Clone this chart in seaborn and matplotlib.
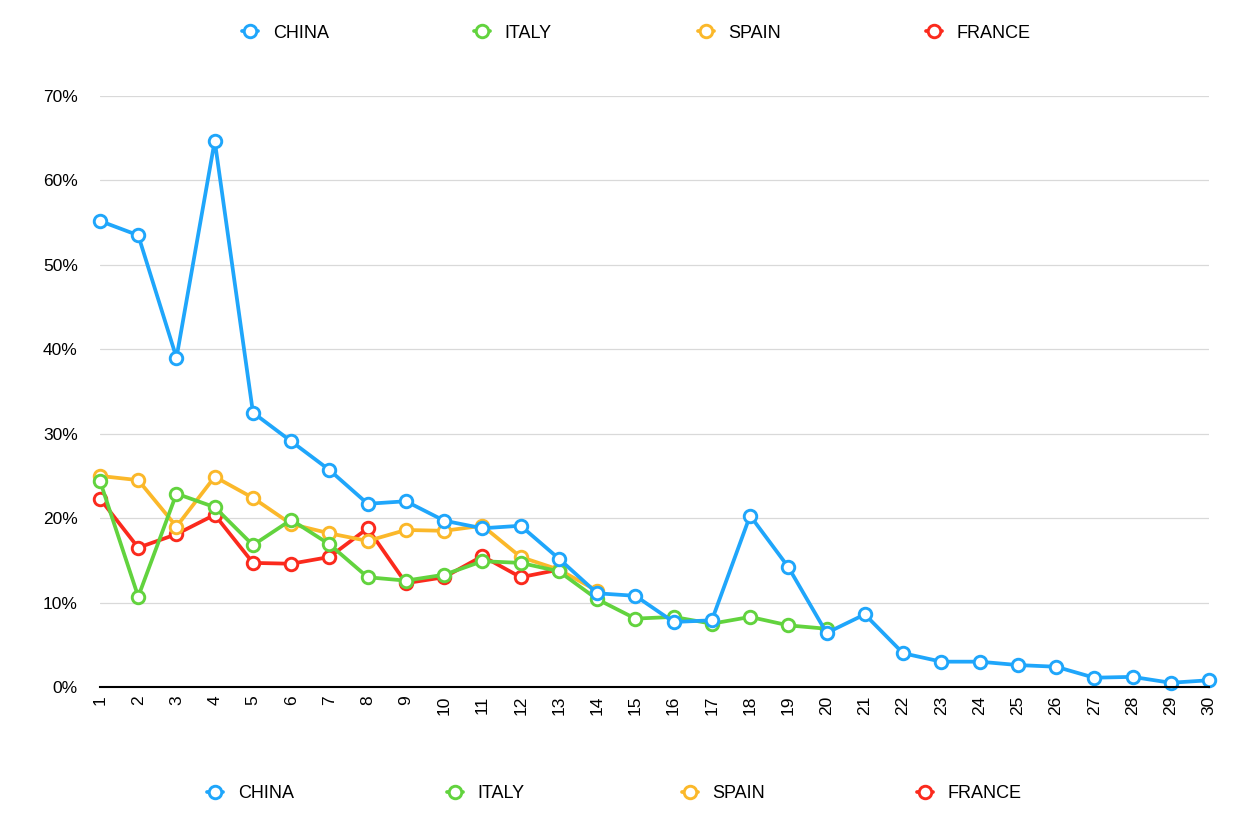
import matplotlib
matplotlib.use("Agg")
import matplotlib.pyplot as plt
import seaborn as sns
import pandas as pd
from matplotlib.lines import Line2D
from matplotlib.ticker import FuncFormatter, MultipleLocator

days = list(range(1, 31))
china = [55.2, 53.5, 39.0, 64.7, 32.5, 29.1, 25.7, 21.7, 22.0, 19.7,
         18.8, 19.1, 15.2, 11.1, 10.8, 7.7, 7.9, 20.3, 14.2, 6.4,
         8.6, 4.0, 3.0, 3.0, 2.6, 2.4, 1.1, 1.2, 0.5, 0.8]
italy = [24.4, 10.7, 22.9, 21.3, 16.8, 19.8, 16.9, 13.0, 12.6, 13.3,
         14.9, 14.7, 13.7, 10.4, 8.1, 8.3, 7.5, 8.3, 7.3, 6.9]
spain = [25.0, 24.5, 19.0, 24.9, 22.4, 19.3, 18.2, 17.3, 18.6, 18.5,
         19.1, 15.4, 13.9, 11.4]
france = [22.3, 16.5, 18.1, 20.4, 14.7, 14.6, 15.4, 18.8, 12.3, 13.0,
          15.5, 13.0, 13.9]

countries = ["CHINA", "ITALY", "SPAIN", "FRANCE"]
series = {"CHINA": china, "ITALY": italy, "SPAIN": spain, "FRANCE": france}
colors = {"CHINA": "#1FA6FB", "ITALY": "#62D33E", "SPAIN": "#FBB82A", "FRANCE": "#FB2A1D"}

rows = []
for c in countries:
    for d, v in zip(days, series[c]):
        rows.append({"day": d, "value": v, "country": c})
df = pd.DataFrame(rows)

sns.set_theme(style="white")
plt.rcParams["font.family"] = ["Liberation Sans", "DejaVu Sans"]
plt.rcParams["text.color"] = "black"
plt.rcParams["xtick.color"] = "black"
plt.rcParams["ytick.color"] = "black"

fig = plt.figure(figsize=(12.48, 8.26), dpi=100)
ax = fig.add_axes([100/1248, 1-687/826, (1209-100)/1248, (687-96)/826])

for c in reversed(countries):
    sub = df[df["country"] == c]
    sns.lineplot(data=sub, x="day", y="value", ax=ax, color=colors[c],
                 linewidth=2.7, marker="o", markersize=9,
                 markerfacecolor="white", markeredgecolor=colors[c],
                 markeredgewidth=2.1, legend=False, clip_on=False)

ax.set_xlim(1, 30)
ax.set_ylim(0, 70)
ax.yaxis.set_major_locator(MultipleLocator(10))
ax.yaxis.set_major_formatter(FuncFormatter(lambda v, p: f"{int(v)}%"))
ax.set_xticks(days)
ax.set_xticklabels([str(d) for d in days], rotation=90)
ax.grid(axis="y", color="#d9d9d9", linewidth=0.9)
ax.set_axisbelow(True)
for s in ["top", "right", "left"]:
    ax.spines[s].set_visible(False)
ax.spines["bottom"].set_color("black")
ax.spines["bottom"].set_linewidth(1.5)
ax.tick_params(axis="y", length=0, pad=16, labelsize=12.5, labelcolor="black")
ax.tick_params(axis="x", length=0, pad=6, labelsize=12.5, labelcolor="black")
ax.set_xlabel("")
ax.set_ylabel("")

def add_legend_entry(c, xpix, ypix):
    h = Line2D([], [], color=colors[c], linewidth=2.7, marker="o", markersize=9,
               markerfacecolor="white", markeredgecolor=colors[c], markeredgewidth=2.1)
    leg = fig.legend(handles=[h], labels=[c], loc="center left",
                     bbox_to_anchor=(xpix/1248, 1-ypix/826), frameon=False,
                     handlelength=0.9, handletextpad=0.8, fontsize=13,
                     borderpad=0, borderaxespad=0, labelcolor="black")
    return leg

top_x = [242, 474, 698, 926]
bot_x = [207, 447, 682, 917]
for c, xp in zip(countries, top_x):
    add_legend_entry(c, xp, 33)
for c, xp in zip(countries, bot_x):
    add_legend_entry(c, xp, 794)

fig.savefig("out.png", dpi=100, facecolor="white")
